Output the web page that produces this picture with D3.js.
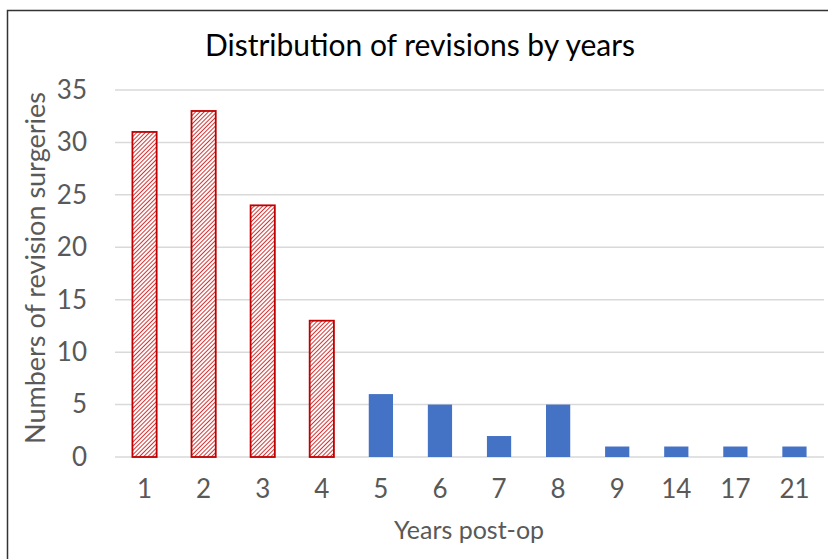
<!DOCTYPE html>
<html>
<head>
<meta charset="utf-8">
<script src="https://cdn.jsdelivr.net/npm/d3@7"></script>
<style>
  body { margin: 0; background: #fff; }
  text { font-family: Lato, "Open Sans", sans-serif; }
</style>
</head>
<body>
<div class="graph_container"></div>
<script>
// chart data
const years = ['1', '2', '3', '4', '5', '6', '7', '8', '9', '14', '17', '21'];
const revisions = [31, 33, 24, 13, 6, 5, 2, 5, 1, 1, 1, 1];
// first years drawn hatched red, later ones solid blue
const earlyYears = ['1', '2', '3', '4'];
const yTicks = [0, 5, 10, 15, 20, 25, 30, 35];

const margin = { top: 90, right: 4, bottom: 102, left: 115 };
const width = 828 - margin.left - margin.right;
const height = 559 - margin.top - margin.bottom;

const svg = d3.select('.graph_container').append('svg')
  .attr('width', 828)
  .attr('height', 559);

// hatch pattern for the red bars
const defs = svg.append('defs');
const pat = defs.append('pattern')
  .attr('id', 'hatch')
  .attr('patternUnits', 'userSpaceOnUse')
  .attr('width', 3)
  .attr('height', 3)
  .attr('patternTransform', 'rotate(45)');
pat.append('rect').attr('width', 3).attr('height', 3).attr('fill', '#fff');
pat.append('line')
  .attr('x1', 0).attr('y1', 0).attr('x2', 0).attr('y2', 3)
  .attr('stroke', '#d22a2a').attr('stroke-width', 1.9);

// outer frame (top and left edges only visible)
svg.append('path')
  .attr('d', 'M7.5,559 L7.5,10.5 L828,10.5')
  .attr('fill', 'none')
  .attr('stroke', '#333')
  .attr('stroke-width', 1.5);

const g = svg.append('g')
  .attr('transform', 'translate(' + margin.left + ',' + margin.top + ')');

const x = d3.scaleBand().domain(years).range([0, width]).paddingInner(0.59).paddingOuter(0.295);
const y = d3.scaleLinear().domain([0, 35]).range([height, 0]);

// gridlines
g.selectAll('.grid')
  .data(yTicks)
  .enter().append('line')
  .attr('class', 'grid')
  .attr('x1', 0).attr('x2', width)
  .attr('y1', d => y(d)).attr('y2', d => y(d))
  .attr('stroke', '#d9d9d9')
  .attr('stroke-width', 1.5);

// y axis labels
const yAxis = d3.axisLeft(y).tickValues(yTicks).tickSize(0).tickPadding(28);
g.append('g')
  .attr('class', 'y axis')
  .call(yAxis)
  .attr('font-size', 26)
  .attr('font-family', null)
  .call(s => s.select('.domain').remove())
  .selectAll('text')
  .attr('fill', '#595959');

// x axis labels
const xAxis = d3.axisBottom(x).tickSize(0).tickPadding(23);
g.append('g')
  .attr('class', 'x axis')
  .attr('transform', 'translate(0,' + height + ')')
  .call(xAxis)
  .attr('font-size', 26)
  .attr('font-family', null)
  .call(s => s.select('.domain').remove())
  .selectAll('text')
  .attr('fill', '#595959');

// bars
g.selectAll('.bar')
  .data(years)
  .enter().append('rect')
  .attr('class', 'bar')
  .attr('x', d => x(d))
  .attr('width', x.bandwidth())
  .attr('y', (d, i) => y(revisions[i]))
  .attr('height', (d, i) => height - y(revisions[i]))
  .style('fill', d => earlyYears.includes(d) ? 'url(#hatch)' : '#4472c4')
  .style('stroke', d => earlyYears.includes(d) ? '#c00000' : 'none')
  .style('stroke-width', 1.8);

// title
svg.append('text')
  .attr('x', 420)
  .attr('y', 56)
  .attr('text-anchor', 'middle')
  .style('font-size', '30px')
  .attr('fill', '#000')
  .text('Distribution of revisions by years');

// axis titles
svg.append('text')
  .attr('x', 469)
  .attr('y', 539)
  .attr('text-anchor', 'middle')
  .style('font-size', '25px')
  .attr('fill', '#595959')
  .text('Years post-op');

svg.append('text')
  .attr('transform', 'translate(45,268) rotate(-90)')
  .attr('text-anchor', 'middle')
  .style('font-size', '27px')
  .attr('fill', '#595959')
  .text('Numbers of revision surgeries');
</script>
</body>
</html>
